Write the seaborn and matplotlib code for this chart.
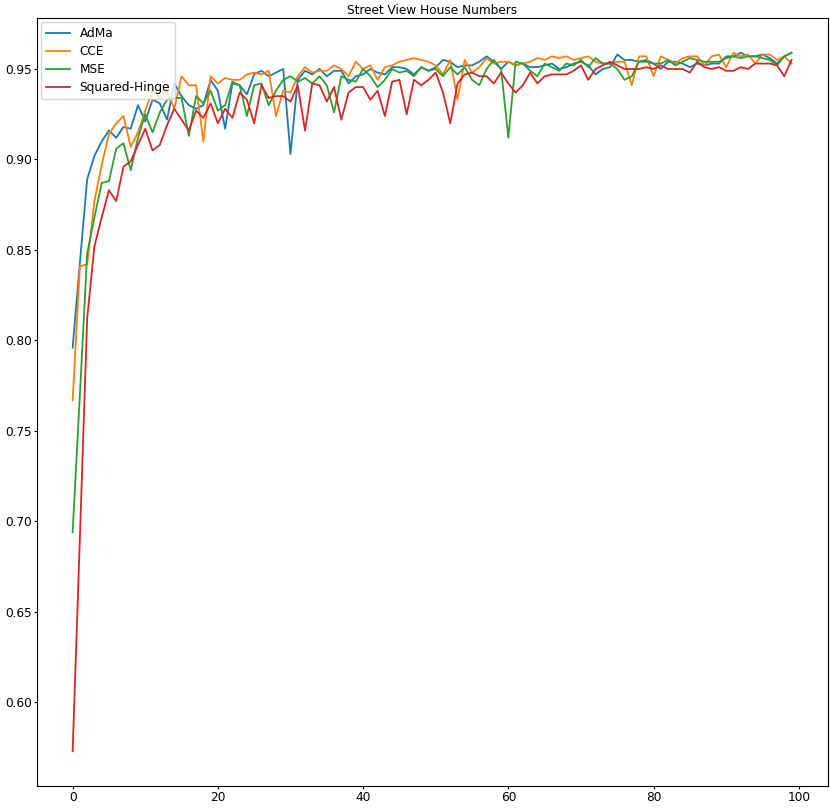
import numpy as np
import pandas as pd
import matplotlib
matplotlib.use("Agg")
import matplotlib.pyplot as plt
import seaborn as sns

# accuracy per epoch for each loss function
epochs = list(range(100))

adma = [0.796, 0.843, 0.889, 0.902, 0.910, 0.916, 0.912, 0.918, 0.917, 0.930,
        0.921, 0.933, 0.931, 0.922, 0.942, 0.935, 0.930, 0.928, 0.930, 0.944,
        0.938, 0.917, 0.942, 0.941, 0.936, 0.947, 0.949, 0.946, 0.948, 0.950,
        0.903, 0.944, 0.949, 0.947, 0.950, 0.946, 0.949, 0.949, 0.942, 0.946,
        0.947, 0.950, 0.948, 0.947, 0.951, 0.951, 0.950, 0.947, 0.951, 0.949,
        0.951, 0.955, 0.954, 0.951, 0.952, 0.952, 0.954, 0.957, 0.954, 0.950,
        0.954, 0.952, 0.953, 0.951, 0.951, 0.952, 0.953, 0.950, 0.951, 0.953,
        0.954, 0.952, 0.947, 0.950, 0.951, 0.958, 0.955, 0.955, 0.954, 0.955,
        0.953, 0.950, 0.954, 0.954, 0.953, 0.951, 0.953, 0.952, 0.953, 0.953,
        0.957, 0.957, 0.959, 0.957, 0.957, 0.958, 0.956, 0.953, 0.957, 0.959]

cce = [0.767, 0.841, 0.842, 0.877, 0.897, 0.914, 0.920, 0.924, 0.907, 0.915,
       0.927, 0.938, 0.934, 0.938, 0.928, 0.946, 0.941, 0.941, 0.910, 0.946,
       0.942, 0.945, 0.944, 0.944, 0.947, 0.948, 0.947, 0.949, 0.924, 0.938,
       0.937, 0.946, 0.951, 0.948, 0.949, 0.949, 0.952, 0.950, 0.946, 0.954,
       0.950, 0.952, 0.944, 0.951, 0.952, 0.954, 0.955, 0.956, 0.955, 0.954,
       0.952, 0.947, 0.955, 0.933, 0.955, 0.948, 0.951, 0.956, 0.953, 0.954,
       0.954, 0.952, 0.953, 0.954, 0.956, 0.955, 0.957, 0.956, 0.957, 0.955,
       0.956, 0.957, 0.954, 0.953, 0.953, 0.954, 0.954, 0.941, 0.957, 0.957,
       0.946, 0.957, 0.955, 0.953, 0.956, 0.957, 0.957, 0.952, 0.957, 0.958,
       0.951, 0.959, 0.957, 0.958, 0.953, 0.958, 0.958, 0.955, 0.957, 0.953]

mse = [0.694, 0.770, 0.848, 0.868, 0.887, 0.888, 0.906, 0.909, 0.894, 0.912,
       0.925, 0.915, 0.926, 0.933, 0.934, 0.934, 0.913, 0.935, 0.931, 0.938,
       0.927, 0.930, 0.943, 0.941, 0.924, 0.941, 0.942, 0.930, 0.938, 0.944,
       0.946, 0.943, 0.945, 0.942, 0.946, 0.941, 0.926, 0.946, 0.944, 0.943,
       0.950, 0.946, 0.940, 0.944, 0.950, 0.948, 0.949, 0.946, 0.951, 0.949,
       0.950, 0.946, 0.951, 0.947, 0.951, 0.944, 0.941, 0.950, 0.955, 0.950,
       0.912, 0.954, 0.953, 0.949, 0.946, 0.953, 0.951, 0.949, 0.953, 0.952,
       0.955, 0.951, 0.956, 0.953, 0.953, 0.950, 0.944, 0.946, 0.954, 0.954,
       0.953, 0.953, 0.955, 0.952, 0.954, 0.956, 0.955, 0.954, 0.954, 0.954,
       0.956, 0.957, 0.956, 0.957, 0.957, 0.956, 0.955, 0.952, 0.957, 0.959]

sq_hinge = [0.573, 0.691, 0.812, 0.852, 0.868, 0.883, 0.877, 0.896, 0.899, 0.908,
            0.917, 0.905, 0.908, 0.919, 0.928, 0.922, 0.916, 0.927, 0.923, 0.931,
            0.920, 0.928, 0.923, 0.937, 0.933, 0.920, 0.941, 0.934, 0.935, 0.935,
            0.932, 0.941, 0.916, 0.942, 0.941, 0.932, 0.940, 0.922, 0.937, 0.940,
            0.940, 0.933, 0.938, 0.924, 0.943, 0.944, 0.925, 0.944, 0.941, 0.944,
            0.948, 0.937, 0.920, 0.942, 0.947, 0.948, 0.946, 0.946, 0.942, 0.948,
            0.942, 0.937, 0.941, 0.948, 0.942, 0.946, 0.947, 0.947, 0.947, 0.949,
            0.952, 0.944, 0.950, 0.952, 0.954, 0.952, 0.950, 0.950, 0.950, 0.951,
            0.950, 0.952, 0.950, 0.950, 0.950, 0.948, 0.954, 0.951, 0.950, 0.951,
            0.949, 0.949, 0.951, 0.950, 0.953, 0.953, 0.953, 0.952, 0.946, 0.955]

series_names = ["AdMa", "CCE", "MSE", "Squared-Hinge"]
series_values = [adma, cce, mse, sq_hinge]
colors = ["#1f77b4", "#ff7f0e", "#2ca02c", "#d62728"]

plt.rcParams["font.family"] = ["DejaVu Sans"]
plt.rcParams["font.size"] = 8.7

fig, ax = plt.subplots(figsize=(8.3, 8.08), dpi=100)
fig.subplots_adjust(left=0.0442, right=0.997, bottom=0.027, top=0.978)

for name, vals, col in zip(series_names, series_values, colors):
    df = pd.DataFrame({"epoch": epochs, "acc": vals})
    sns.lineplot(data=df, x="epoch", y="acc", color=col, label=name,
                 linewidth=1.3, ax=ax)

ax.set_xlabel("")
ax.set_ylabel("")
ax.set_title("Street View House Numbers", fontsize=8.7, pad=2.5)
ax.set_xticks([0, 20, 40, 60, 80, 100])
ax.set_yticks(np.arange(0.60, 0.951, 0.05))
ax.tick_params(length=2.5, pad=1.2, labelsize=8.7)
for sp in ax.spines.values():
    sp.set_linewidth(0.8)
ax.legend(loc="upper left", fontsize=8.7, labelspacing=0.42, borderaxespad=0.35)

plt.savefig("out.png", dpi=100)
